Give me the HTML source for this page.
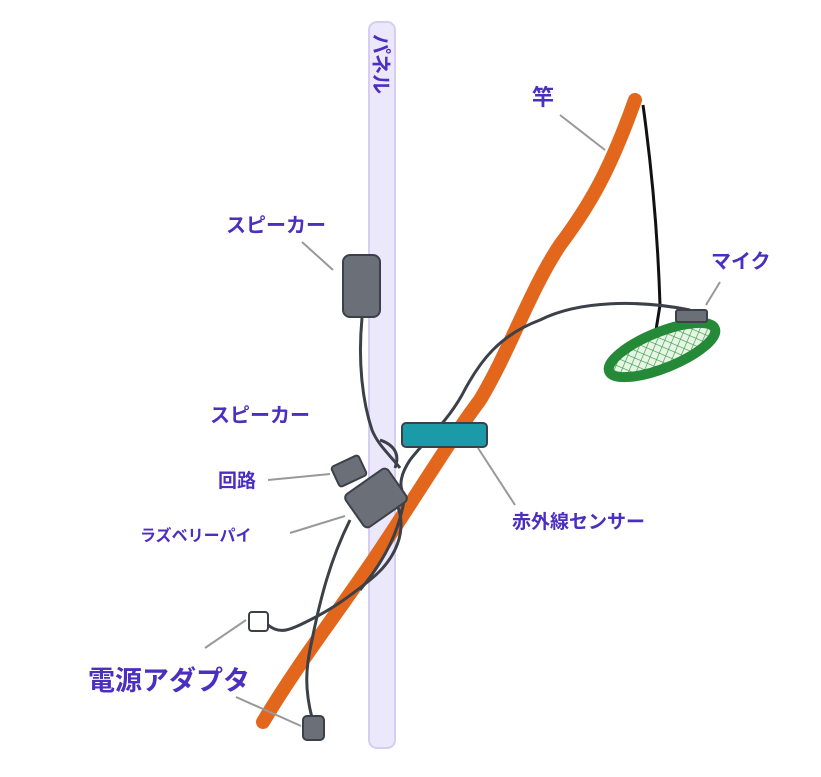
<!DOCTYPE html>
<html><head><meta charset="utf-8"><style>
html,body{margin:0;padding:0;background:#fff;}
svg{display:block}
text{font-family:"Liberation Sans","Noto Sans CJK JP",sans-serif;fill:#4a2fc0;font-weight:bold;}
</style></head><body>
<svg width="821" height="777" viewBox="0 0 821 777">
<defs>
<pattern id="hatch" width="7" height="7" patternUnits="userSpaceOnUse" patternTransform="rotate(45)">
<rect width="7" height="7" fill="#e6f5e4"/>
<line x1="0" y1="0" x2="0" y2="7" stroke="#3a9a4a" stroke-width="1.3"/>
<line x1="0" y1="0" x2="7" y2="0" stroke="#3a9a4a" stroke-width="1.3"/>
</pattern>
</defs>
<rect x="369" y="22" width="26" height="726" rx="8" fill="#ece8fb" stroke="#d6cdf2" stroke-width="2"/>
<text x="0" y="0" font-size="20" transform="translate(374 34) rotate(90)">パネル</text>

<path d="M263,722 C300,660 340,610 380,550 C420,490 450,440 480,400 C510,350 530,290 560,245 C590,205 610,170 635,100" fill="none" stroke="#e2661b" stroke-width="14" stroke-linecap="round"/>
<path d="M643,105 C652,170 658,240 660,305 L656,330" fill="none" stroke="#111" stroke-width="3"/>

<g fill="none" stroke="#3b4049" stroke-width="3">
<path d="M362,318 C358,360 362,400 372,430 C378,445 390,455 400,468"/>
<path d="M690,310 C640,300 580,300 540,320 C500,335 480,360 462,395 C445,425 425,440 410,460 C400,475 400,485 402,490"/>
<path d="M380,440 C395,445 400,455 395,468"/>
<path d="M395,500 C410,530 395,560 370,580 C345,600 330,610 310,620 C290,630 280,635 268,625"/>
<path d="M350,520 C330,560 320,600 312,640 C305,670 305,690 312,718"/>
<path d="M405,495 C400,530 385,560 360,590"/>
</g>

<rect x="343" y="255" width="37" height="62" rx="7" fill="#6b7078" stroke="#3b4049" stroke-width="2"/>
<rect x="402" y="423" width="85" height="24" rx="4" fill="#1b9ba8" stroke="#3b4049" stroke-width="2"/>
<rect x="334" y="460" width="30" height="22" rx="3" fill="#6b7078" stroke="#3b4049" stroke-width="2" transform="rotate(-25 349 471)"/>
<rect x="350" y="478" width="52" height="40" rx="5" fill="#6b7078" stroke="#3b4049" stroke-width="2" transform="rotate(-35 376 498)"/>
<rect x="249" y="612" width="19" height="19" rx="3" fill="#fff" stroke="#3b4049" stroke-width="2"/>
<rect x="303" y="716" width="21" height="24" rx="4" fill="#6b7078" stroke="#3b4049" stroke-width="2"/>

<ellipse cx="662" cy="350" rx="57" ry="18" transform="rotate(-22 662 350)" fill="url(#hatch)" stroke="#248a37" stroke-width="10"/>
<rect x="676" y="310" width="31" height="12" rx="2" fill="#6b7078" stroke="#3b4049" stroke-width="2"/>

<g stroke="#999" stroke-width="2" fill="none">
<path d="M560,115 L605,150"/><path d="M720,282 L706,305"/>
<path d="M302,242 L333,270"/><path d="M268,480 L330,474"/>
<path d="M290,533 L345,516"/><path d="M478,448 L515,505"/>
<path d="M205,648 L246,620"/><path d="M236,697 L301,726"/>
</g>

<text x="532" y="105" font-size="22">竿</text>
<text x="711" y="268" font-size="20">マイク</text>
<text x="226" y="232" font-size="20">スピーカー</text>
<text x="210" y="422" font-size="20">スピーカー</text>
<text x="218" y="487" font-size="19">回路</text>
<text x="140" y="541" font-size="16">ラズベリーパイ</text>
<text x="512" y="528" font-size="19">赤外線センサー</text>
<text x="88" y="690" font-size="27">電源アダプタ</text>
</svg>
</body></html>
